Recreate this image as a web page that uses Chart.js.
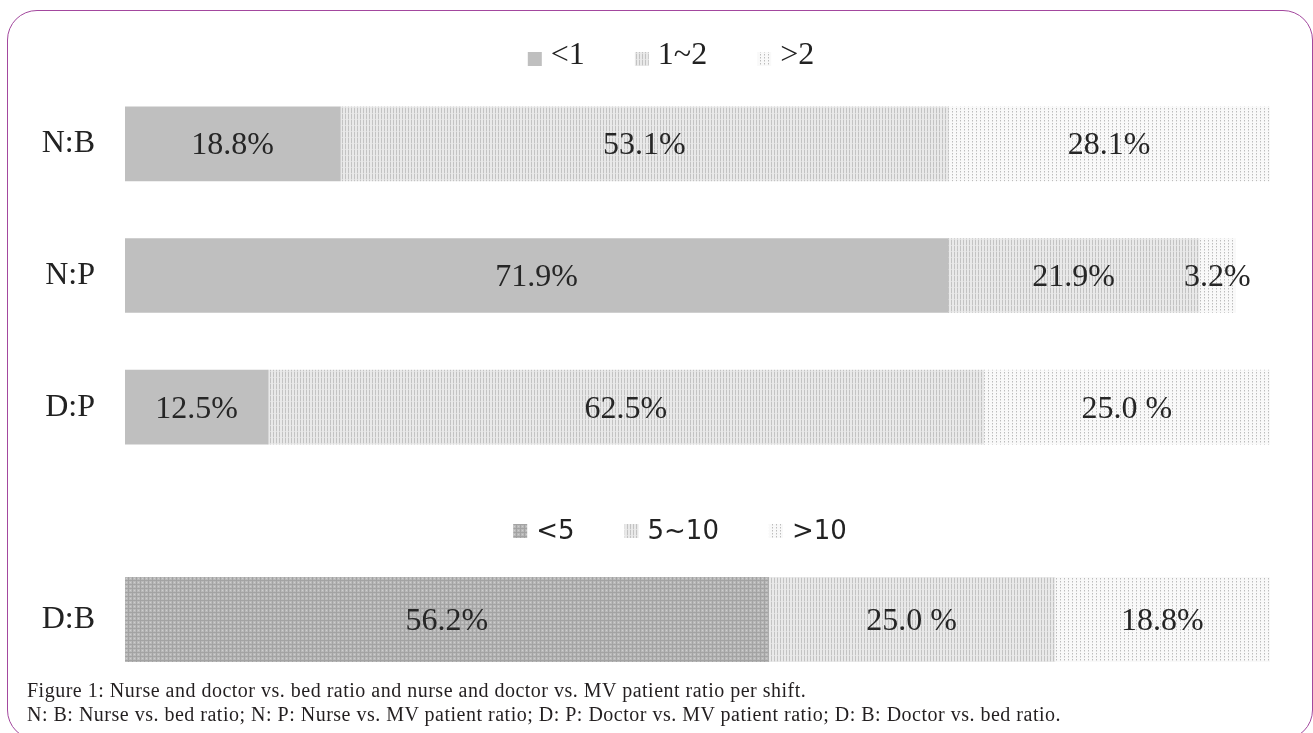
<!DOCTYPE html>
<html>
<head>
<meta charset="utf-8">
<script src="https://cdn.jsdelivr.net/npm/chart.js@4.4.1/dist/chart.umd.min.js"></script>
<style>
  html, body { margin: 0; padding: 0; background: #fff; width: 1313px; height: 733px; overflow: hidden; position: relative; }
  .frame { position: absolute; left: 7px; top: 10px; width: 1306px; height: 730px; border: 1.5px solid #a3489e; border-radius: 30px; box-sizing: border-box; }
  canvas { position: absolute; left: 0; }
  #ratioChart { top: 0; }
  #bedChart { top: 500px; }
  .caption { position: absolute; left: 27px; top: 678px; font-family: "Liberation Serif", serif; font-size: 20px; letter-spacing: 0.5px; line-height: 24px; color: #231f20; white-space: nowrap; }
</style>
</head>
<body>
<div class="frame"></div>
<canvas id="ratioChart" width="1313" height="480"></canvas>
<canvas id="bedChart" width="1313" height="180"></canvas>
<div class="caption">Figure 1: Nurse and doctor vs. bed ratio and nurse and doctor vs. MV patient ratio per shift.<br>N: B: Nurse vs. bed ratio; N: P: Nurse vs. MV patient ratio; D: P: Doctor vs. MV patient ratio; D: B: Doctor vs. bed ratio.</div>
<script>
// Staffing ratios per shift (percent of units)
const ratioRows = ['N:B', 'N:P', 'D:P'];
const ratioLegend = ['<1', '1~2', '>2'];
const shareBelow1 = [18.8, 71.9, 12.5];
const shareOneToTwo = [53.1, 21.9, 62.5];
const shareAbove2 = [28.1, 3.2, 25.0];

// Doctor vs. bed ratio
const bedRows = ['D:B'];
const bedLegend = ['<5', '5~10', '>10'];
const shareBelow5 = [56.2];
const shareFiveToTen = [25.0];
const shareAbove10 = [18.8];

// gap printed between number and % sign, per bar
const sepAbove2 = ['', '', ' '];
const sepFiveToTen = [' '];

const SERIF = '"Liberation Serif", serif';
const SANS = '"DejaVu Sans", sans-serif';

function makeTile(w, h, paint) {
  const c = document.createElement('canvas');
  c.width = w; c.height = h;
  paint(c.getContext('2d'));
  return c;
}
function px(g, x, y, col) { g.fillStyle = col; g.fillRect(x, y, 1, 1); }

// vertical hatching
const stripeTile = makeTile(3, 6, g => {
  g.fillStyle = '#e9e9e9'; g.fillRect(0, 0, 3, 6);
  g.fillStyle = '#c3c3c3'; g.fillRect(0, 0, 1, 5);
  px(g, 0, 5, '#dddddd');
});
// sparse dots
const dotTile = makeTile(4, 3, g => {
  g.fillStyle = '#f9f9f9'; g.fillRect(0, 0, 4, 3);
  px(g, 0, 0, '#bcbcbc');
  px(g, 0, 1, '#dcdcdc');
});
// dense grey screen
const gridTile = makeTile(4, 4, g => {
  g.fillStyle = '#b9b9b9'; g.fillRect(0, 0, 4, 4);
  g.fillStyle = '#a3a3a3'; g.fillRect(0, 0, 4, 1); g.fillRect(0, 0, 1, 4);
  px(g, 2, 2, '#cecece');
});

function pattern(ctx, tile) { return ctx.createPattern(tile, 'repeat'); }

// Legend row of pattern swatches drawn above the bars
const rowLegend = {
  id: 'rowLegend',
  afterDraw(chart, args, opts) {
    const ctx = chart.ctx;
    ctx.save();
    ctx.font = opts.font;
    ctx.textBaseline = 'middle';
    const box = 14, gapText = 9, gapItem = 50;
    const items = chart.data.datasets.map(ds => ({ text: ds.label, fill: ds.backgroundColor, w: ctx.measureText(ds.label).width }));
    const total = items.reduce((s, it) => s + box + gapText + it.w, 0) + gapItem * (items.length - 1);
    let x = opts.centerX - total / 2;
    items.forEach(it => {
      ctx.fillStyle = it.fill;
      ctx.fillRect(x, opts.y - box / 2 + opts.boxShift, box, box);
      x += box + gapText;
      ctx.fillStyle = '#222';
      ctx.textAlign = 'left';
      ctx.fillText(it.text, x, opts.y);
      x += it.w + gapItem;
    });
    ctx.restore();
  }
};

// Percent labels centred in each bar segment
const segmentLabels = {
  id: 'segmentLabels',
  afterDatasetsDraw(chart) {
    const ctx = chart.ctx;
    ctx.save();
    ctx.font = '32px ' + SERIF;
    ctx.fillStyle = '#262626';
    ctx.textAlign = 'center';
    ctx.textBaseline = 'middle';
    chart.data.datasets.forEach((ds, di) => {
      const meta = chart.getDatasetMeta(di);
      meta.data.forEach((el, i) => {
        const v = ds.data[i];
        const sep = ds.pctSep ? ds.pctSep[i] : '';
        const p = el.getCenterPoint();
        ctx.fillText(v.toFixed(1) + sep + '%', p.x, p.y + 2);
      });
    });
    ctx.restore();
  }
};

function barOptions(pad, legend) {
  return {
    indexAxis: 'y',
    responsive: false,
    animation: false,
    devicePixelRatio: 1,
    layout: { padding: pad },
    plugins: {
      legend: { display: false },
      tooltip: { enabled: false },
      rowLegend: legend
    },
    scales: {
      x: { stacked: true, min: 0, max: 100, display: false },
      y: {
        stacked: true,
        grid: { display: false, drawTicks: false },
        border: { display: false },
        ticks: { color: '#222', font: { family: SERIF, size: 32 }, padding: 30 },
        afterFit(scale) {
          scale.width = 125;
          // row labels sit beside their bars; no extra room above/below
          scale.paddingTop = 0;
          scale.paddingBottom = 0;
        }
      }
    }
  };
}

const c1 = document.getElementById('ratioChart').getContext('2d');
new Chart(c1, {
  type: 'bar',
  data: {
    labels: ratioRows,
    datasets: [
      { label: ratioLegend[0], data: shareBelow1, backgroundColor: '#bfbfbf', barThickness: 74, borderWidth: 0 },
      { label: ratioLegend[1], data: shareOneToTwo, backgroundColor: pattern(c1, stripeTile), barThickness: 74, borderWidth: 0 },
      { label: ratioLegend[2], data: shareAbove2, backgroundColor: pattern(c1, dotTile), barThickness: 74, borderWidth: 0, pctSep: sepAbove2 }
    ]
  },
  options: barOptions({ top: 78, right: 43, bottom: 7, left: 0 },
    { y: 56, centerX: 671, font: '32px ' + SERIF, boxShift: 3 }),
  plugins: [rowLegend, segmentLabels]
});

const c2 = document.getElementById('bedChart').getContext('2d');
new Chart(c2, {
  type: 'bar',
  data: {
    labels: bedRows,
    datasets: [
      { label: bedLegend[0], data: shareBelow5, backgroundColor: pattern(c2, gridTile), barThickness: 85, borderWidth: 0 },
      { label: bedLegend[1], data: shareFiveToTen, backgroundColor: pattern(c2, stripeTile), barThickness: 85, borderWidth: 0, pctSep: sepFiveToTen },
      { label: bedLegend[2], data: shareAbove10, backgroundColor: pattern(c2, dotTile), barThickness: 85, borderWidth: 0 }
    ]
  },
  options: barOptions({ top: 77, right: 43, bottom: 18, left: 0 },
    { y: 32, centerX: 680, font: '26px ' + SANS, boxShift: -1 }),
  plugins: [rowLegend, segmentLabels]
});
</script>
</body>
</html>
